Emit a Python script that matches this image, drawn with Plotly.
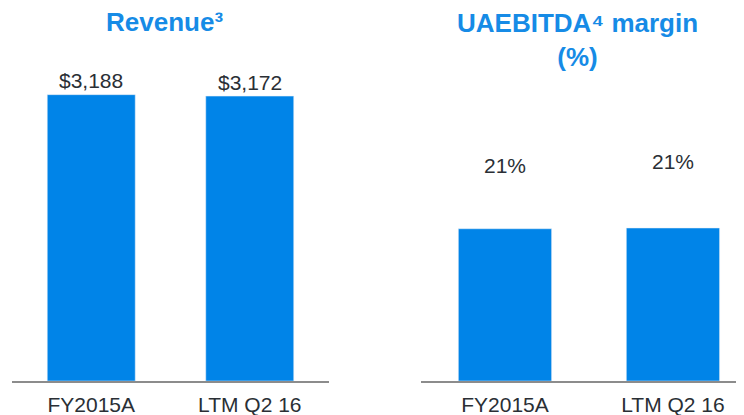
import plotly.graph_objects as go

# ---- data ----
categories = ["FY2015A", "LTM Q2 16"]
revenue = [3188, 3172]
revenue_labels = ["$3,188", "$3,172"]
margin = [20.9, 21.0]
margin_labels = ["21%", "21%"]

# ---- style ----
OFF = 8                    # default page body margin
W, H = 744 - OFF, 415 - OFF
MB = 34
PLOT_H = H - MB
BAR = "#0084E8"
TITLE = "#168BE6"
TXT = "#2a2f35"
FONT = "Liberation Sans, Arial, DejaVu Sans, sans-serif"

def px_x(p):
    return (p - OFF) / W

def px_y(p):
    return (PLOT_H - (p - OFF)) / PLOT_H

fig = go.Figure()
fig.add_trace(go.Bar(x=categories, y=revenue, marker_color=BAR, xaxis="x", yaxis="y",
                     hoverinfo="skip"))
fig.add_trace(go.Bar(x=categories, y=margin, marker_color=BAR, xaxis="x2", yaxis="y2",
                     hoverinfo="skip"))

axis_common = dict(showgrid=False, zeroline=False, showline=True, linecolor="#8c8c8c",
                   linewidth=2, ticks="", tickfont=dict(family=FONT, size=21, color=TXT),
                   ticklabelstandoff=4, fixedrange=True)

fig.update_layout(
    width=W, height=H,
    margin=dict(l=0, r=0, t=0, b=MB, autoexpand=False),
    paper_bgcolor="white", plot_bgcolor="white",
    showlegend=False, bargap=0.445,
    xaxis=dict(domain=[px_x(12), px_x(329)], range=[-0.5, 1.5], **axis_common),
    xaxis2=dict(domain=[px_x(421), 1.0], range=[-0.5, 1.423], anchor="y2", **axis_common),
    yaxis=dict(domain=[0, 1], range=[0, 4153], visible=False, fixedrange=True),
    yaxis2=dict(domain=[0, 1], range=[0, 51.2], visible=False, anchor="x2", fixedrange=True),
    font=dict(family=FONT, color=TXT),
)

# value labels
for c, v, t in zip(categories, revenue, revenue_labels):
    fig.add_annotation(x=c, y=v, xref="x", yref="y", text=t, showarrow=False,
                       yanchor="middle", yshift=14,
                       font=dict(family=FONT, size=21, color=TXT))
margin_shift = [63, 67]
for c, v, t, s in zip(categories, margin, margin_labels, margin_shift):
    fig.add_annotation(x=c, y=v, xref="x2", yref="y2", text=t, showarrow=False,
                       yanchor="middle", yshift=s,
                       font=dict(family=FONT, size=21, color=TXT))

# titles
fig.add_annotation(x=px_x(164), y=px_y(22), xref="paper", yref="paper",
                   text="<b>Revenue³</b>", showarrow=False,
                   xanchor="center", yanchor="middle",
                   font=dict(family=FONT, size=26, color=TITLE))
fig.add_annotation(x=px_x(577), y=px_y(40), xref="paper", yref="paper",
                   text="<b>UAEBITDA⁴ margin<br>(%)</b>", showarrow=False,
                   xanchor="center", yanchor="middle",
                   font=dict(family=FONT, size=26, color=TITLE))

fig.write_html("out.html", config=dict(displayModeBar=False))
